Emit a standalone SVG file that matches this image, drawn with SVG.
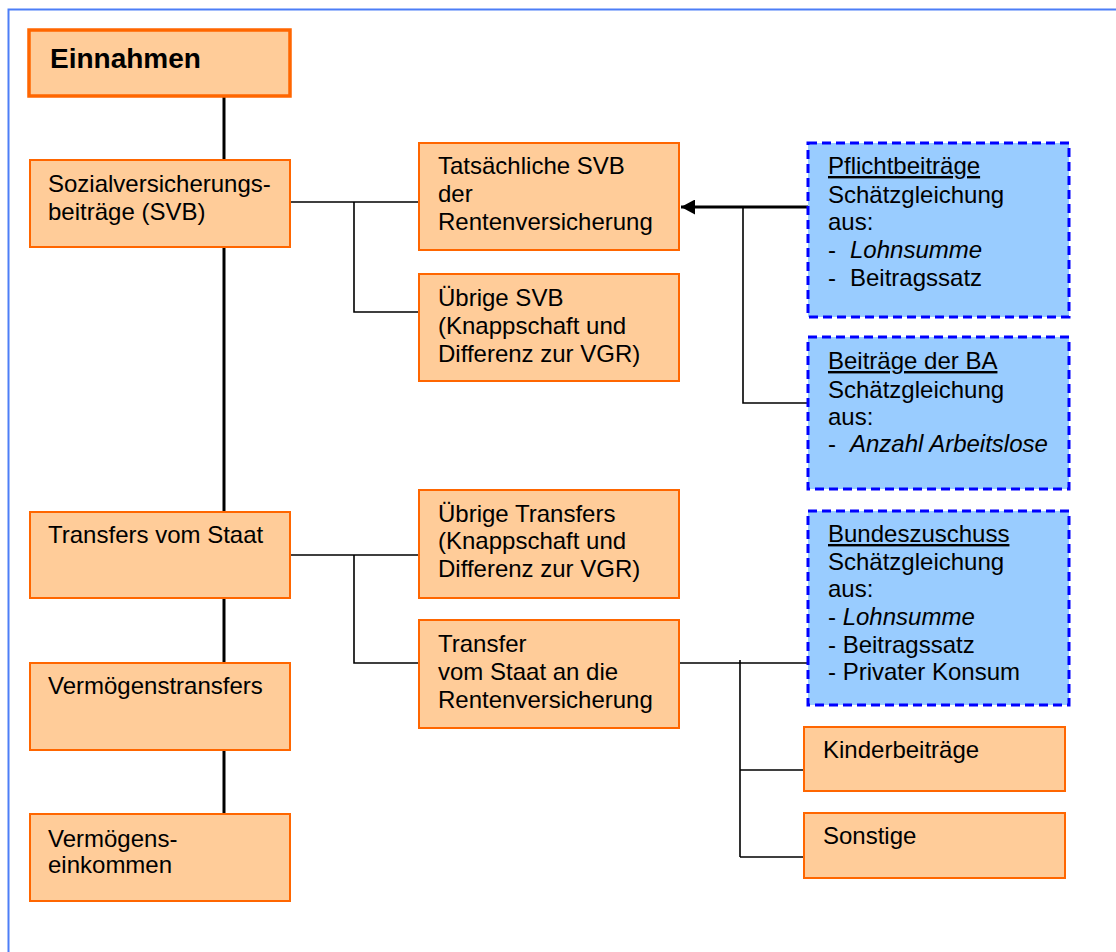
<svg xmlns="http://www.w3.org/2000/svg" width="1116" height="952" viewBox="0 0 1116 952">
<defs>
<style>
.box{fill:#ffcc99;stroke:#ff6600;stroke-width:2}
.top{fill:#ffcc99;stroke:#ff6600;stroke-width:3.5}
.est{fill:#99ccff;stroke:#0000ff;stroke-width:3;stroke-dasharray:9 5}
text{font-family:"Liberation Sans",Arial,sans-serif;font-size:24px;fill:#000}
.b{font-weight:bold;font-size:28px}
.i{font-style:italic}
.u{text-decoration:underline}
.thick{stroke:#000;stroke-width:3;fill:none}
.thin{stroke:#000;stroke-width:1.6;fill:none}
</style>
<marker id="ah" markerWidth="14" markerHeight="15" refX="14" refY="7.5" orient="auto" markerUnits="userSpaceOnUse">
<path d="M0,0 L14,7.5 L0,15 Z" fill="#000"/>
</marker>
</defs>
<rect width="1116" height="952" fill="#fff"/>
<rect x="8.5" y="9.5" width="1200" height="1000" fill="none" stroke="#4d7ef7" stroke-width="2"/>

<g id="connectors">
<path class="thick" d="M224,96 V160 M224,247 V512 M224,598 V663 M224,750 V814"/>
<path class="thin" d="M290,202 H419 M354,202 V312 H419"/>
<path class="thin" d="M290,555 H419 M354,555 V663 H419"/>
<path class="thick" d="M808,207 H681" marker-end="url(#ah)"/>
<path class="thin" d="M743,207 V403 H808"/>
<path class="thin" d="M679,663 H808 M740,660 V857 M740,770 H804 M740,857 H804"/>
</g>

<g id="einnahmen"><rect class="top" x="29" y="30" width="261" height="66"/><text class="b" x="50" y="68">Einnahmen</text></g>
<g id="svb"><rect class="box" x="30" y="160" width="260" height="87"/><text x="48" y="192">Sozialversicherungs-</text><text x="48" y="220">beiträge (SVB)</text></g>
<g id="tatsaechliche"><rect class="box" x="419" y="143" width="260" height="107"/><text x="438" y="174">Tatsächliche SVB</text><text x="438" y="202">der</text><text x="438" y="230">Rentenversicherung</text></g>
<g id="uebrige-svb"><rect class="box" x="419" y="274" width="260" height="107"/><text x="438" y="306">Übrige SVB</text><text x="438" y="334">(Knappschaft und</text><text x="438" y="362">Differenz zur VGR)</text></g>
<g id="pflicht"><rect class="est" x="808" y="143" width="261" height="174"/>
<text class="u" x="828" y="174">Pflichtbeiträge</text><text x="828" y="203">Schätzgleichung</text><text x="828" y="230">aus:</text>
<text x="828" y="258">-</text><text class="i" x="850" y="258">Lohnsumme</text>
<text x="828" y="286">-</text><text x="850" y="286">Beitragssatz</text></g>
<g id="ba"><rect class="est" x="808" y="337" width="261" height="152"/>
<text class="u" x="828" y="369">Beiträge der BA</text><text x="828" y="398">Schätzgleichung</text><text x="828" y="425">aus:</text>
<text x="828" y="452">-</text><text class="i" x="850" y="452">Anzahl Arbeitslose</text></g>
<g id="transfers"><rect class="box" x="30" y="512" width="260" height="86"/><text x="48" y="543">Transfers vom Staat</text></g>
<g id="uebrige-transfers"><rect class="box" x="419" y="490" width="260" height="108"/><text x="438" y="522">Übrige Transfers</text><text x="438" y="549">(Knappschaft und</text><text x="438" y="577">Differenz zur VGR)</text></g>
<g id="transfer-rv"><rect class="box" x="419" y="620" width="260" height="108"/><text x="438" y="652">Transfer</text><text x="438" y="680">vom Staat an die</text><text x="438" y="708">Rentenversicherung</text></g>
<g id="bundeszuschuss"><rect class="est" x="808" y="511" width="261" height="194"/>
<text class="u" x="828" y="542">Bundeszuschuss</text><text x="828" y="570">Schätzgleichung</text><text x="828" y="597">aus:</text>
<text x="828" y="625">- <tspan class="i">Lohnsumme</tspan></text><text x="828" y="653">- Beitragssatz</text><text x="828" y="680">- Privater Konsum</text></g>
<g id="vermoegenstransfers"><rect class="box" x="30" y="663" width="260" height="87"/><text x="48" y="694">Vermögenstransfers</text></g>
<g id="kinder"><rect class="box" x="804" y="727" width="261" height="64"/><text x="823" y="758">Kinderbeiträge</text></g>
<g id="vermoegenseinkommen"><rect class="box" x="30" y="814" width="260" height="87"/><text x="48" y="847">Vermögens-</text><text x="48" y="873">einkommen</text></g>
<g id="sonstige"><rect class="box" x="804" y="813" width="261" height="65"/><text x="823" y="844">Sonstige</text></g>
</svg>
